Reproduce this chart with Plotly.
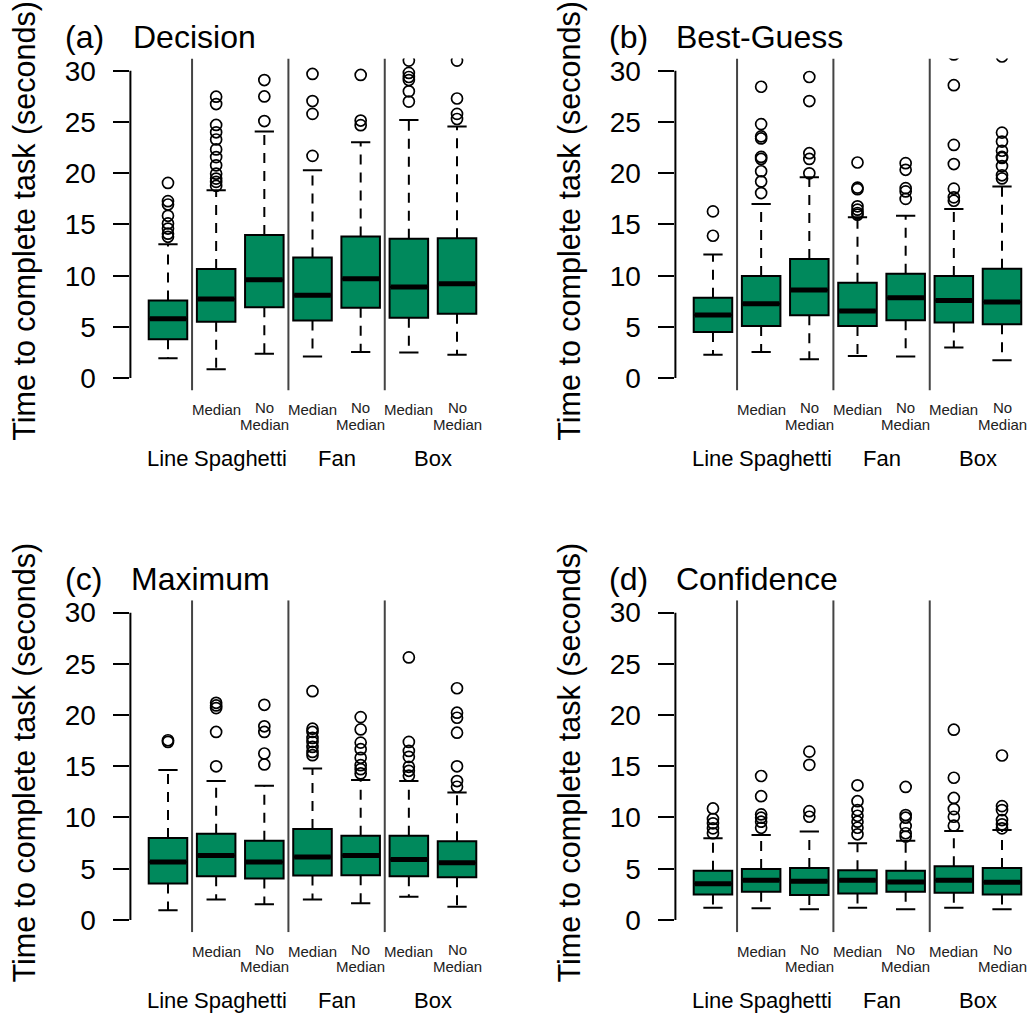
import plotly.graph_objects as go

W, H = 1031, 1019
GREEN = "#00895C"
FONT = "Liberation Sans, Arial, sans-serif"

# ---------------- data ----------------
positions = [1, 2, 3, 4, 5, 6, 7]
group_labels = ["Line", "Spaghetti", "Fan", "Box"]
group_centers = [1, 2.5, 4.5, 6.5]
separators = [1.5, 3.5, 5.5]
median_label_pos = [2, 4, 6]
nomedian_label_pos = [3, 5, 7]
panel_letters = ["(a)", "(b)", "(c)", "(d)"]
panel_titles = ["Decision", "Best-Guess", "Maximum", "Confidence"]
y_ticks = [0, 5, 10, 15, 20, 25, 30]
y_title = "Time to complete task (seconds)"

# (a) Decision
decision_q1 = [3.79, 5.50, 6.93, 5.63, 6.86, 5.89, 6.28]
decision_median = [5.79, 7.73, 9.61, 8.09, 9.71, 8.90, 9.22]
decision_q3 = [7.57, 10.65, 13.98, 11.78, 13.82, 13.60, 13.66]
decision_low = [1.94, 0.87, 2.39, 2.10, 2.56, 2.49, 2.27]
decision_high = [13.07, 18.35, 24.08, 20.30, 23.04, 25.20, 24.56]
decision_outliers = [
    [19.06, 17.28, 16.95, 15.85, 15.10, 14.60, 14.10, 13.80],
    [27.48, 26.76, 24.72, 24.00, 23.30, 22.33, 21.58, 20.78, 19.96, 19.48, 19.16, 18.77],
    [29.10, 27.50, 25.10],
    [29.70, 27.05, 25.80, 21.70],
    [29.60, 25.15, 24.70],
    [31.00, 29.80, 29.40, 29.10, 28.00, 27.00],
    [31.00, 27.30, 25.80, 25.30],
]

# (b) Best-Guess
bestguess_q1 = [4.51, 5.09, 6.13, 5.09, 5.64, 5.42, 5.25]
bestguess_median = [6.16, 7.27, 8.60, 6.55, 7.85, 7.59, 7.43]
bestguess_q3 = [7.85, 9.96, 11.64, 9.31, 10.18, 9.96, 10.67]
bestguess_low = [2.27, 2.56, 1.85, 2.17, 2.10, 2.98, 1.75]
bestguess_high = [12.07, 17.00, 19.60, 15.70, 15.86, 16.50, 18.70]
bestguess_outliers = [
    [16.28, 13.90],
    [28.45, 24.80, 23.60, 23.40, 21.60, 21.40, 20.20, 19.20, 18.07],
    [29.40, 27.05, 21.96, 21.40, 20.00],
    [21.05, 18.60, 18.45, 16.77, 16.45, 16.12, 15.96],
    [20.99, 20.34, 18.55, 18.23, 17.50],
    [31.60, 28.60, 22.77, 20.90, 18.50, 17.65, 17.32],
    [31.40, 23.97, 23.10, 22.20, 21.60, 21.50, 20.70, 19.80, 19.50],
]

# (c) Maximum
maximum_q1 = [3.56, 4.27, 4.05, 4.34, 4.37, 4.27, 4.17]
maximum_median = [5.66, 6.28, 5.66, 6.15, 6.28, 5.89, 5.57]
maximum_q3 = [7.99, 8.41, 7.73, 8.87, 8.22, 8.22, 7.67]
maximum_low = [0.94, 2.00, 1.52, 2.00, 1.62, 2.27, 1.29]
maximum_high = [14.63, 13.56, 13.10, 14.79, 13.66, 13.56, 12.43]
maximum_outliers = [
    [17.54, 17.38],
    [21.20, 20.94, 20.68, 18.35, 15.00],
    [21.00, 18.90, 18.35, 16.25, 15.18],
    [22.33, 18.67, 18.35, 17.77, 17.38, 16.89, 16.40, 16.08],
    [19.80, 18.60, 17.31, 16.67, 15.83, 15.11, 14.72, 14.30],
    [25.63, 17.38, 16.50, 15.92, 14.95, 14.56, 14.08],
    [22.62, 20.23, 19.74, 18.28, 15.00, 13.56, 13.00],
]

# (d) Confidence
confidence_q1 = [2.49, 2.74, 2.42, 2.58, 2.74, 2.65, 2.49]
confidence_median = [3.52, 3.87, 3.78, 3.87, 3.71, 3.87, 3.68]
confidence_q3 = [4.81, 4.97, 5.07, 4.84, 4.81, 5.23, 5.07]
confidence_low = [1.19, 1.13, 1.03, 1.19, 1.03, 1.19, 1.03]
confidence_high = [7.98, 8.30, 8.62, 7.49, 7.72, 8.69, 8.78]
confidence_outliers = [
    [10.88, 9.85, 9.43, 8.94, 8.46],
    [14.05, 12.08, 10.30, 9.98, 9.59, 9.00],
    [16.43, 15.14, 10.62, 10.07],
    [13.14, 11.59, 10.72, 10.17, 9.59, 9.00, 8.36],
    [12.98, 10.24, 9.98, 9.17, 8.46, 8.14],
    [18.57, 13.88, 11.91, 10.82, 10.07, 9.20],
    [16.05, 11.11, 10.72, 9.75, 9.33, 8.94],
]

panels = [
    (decision_q1, decision_median, decision_q3, decision_low, decision_high, decision_outliers),
    (bestguess_q1, bestguess_median, bestguess_q3, bestguess_low, bestguess_high, bestguess_outliers),
    (maximum_q1, maximum_median, maximum_q3, maximum_low, maximum_high, maximum_outliers),
    (confidence_q1, confidence_median, confidence_q3, confidence_low, confidence_high, confidence_outliers),
]

# ---------------- layout geometry (pixels) ----------------
Y_RANGE = [-1.2, 31.2]
BOX_W = 0.8
CAP_W = 0.4


def px_x(p):
    return p / W


def px_y(p):
    return 1 - p / H


# plot-region pixel boxes: (left, right, top, bottom)
regions = [
    (130.4, 494.6, 55.9, 389.7),
    (675.4, 1031.0, 55.9, 389.7),
    (130.4, 494.6, 600.9, 934.7),
    (675.4, 1031.0, 600.9, 934.7),
]
x_ranges = [[0.22, 7.78], [0.22, 7.602], [0.22, 7.78], [0.22, 7.602]]
title_pos = [(63, 131, 34), (607, 674, 34), (63, 129, 579), (607, 674, 579)]
ytitle_pos = [(25, 219), (570, 219), (25, 764), (570, 764)]

fig = go.Figure()
annotations = []
shapes = []
layout_axes = {}

for i, (q1, med, q3, lo, hi, outs) in enumerate(panels):
    sfx = "" if i == 0 else str(i + 1)
    xa, ya = "x" + sfx, "y" + sfx
    L, R, T, B = regions[i]

    # boxes
    fig.add_trace(go.Box(
        x=positions, q1=q1, median=med, q3=q3, lowerfence=q1, upperfence=q3,
        width=BOX_W, fillcolor=GREEN, line=dict(color="black", width=2),
        boxpoints=False, whiskerwidth=0, hoverinfo="skip",
        xaxis=xa, yaxis=ya, showlegend=False,
    ))
    # thick medians
    mx, my = [], []
    for p, m in zip(positions, med):
        mx += [p - BOX_W / 2 + 0.02, p + BOX_W / 2 - 0.02, None]
        my += [m, m, None]
    fig.add_trace(go.Scatter(x=mx, y=my, mode="lines",
                             line=dict(color="black", width=5),
                             xaxis=xa, yaxis=ya, showlegend=False, hoverinfo="skip"))
    # dashed whiskers
    wx, wy = [], []
    for p, a, b, c, d in zip(positions, q1, q3, lo, hi):
        wx += [p, p, None, p, p, None]
        wy += [b, d, None, a, c, None]
    fig.add_trace(go.Scatter(x=wx, y=wy, mode="lines",
                             line=dict(color="black", width=2, dash="10px,8px"),
                             xaxis=xa, yaxis=ya, showlegend=False, hoverinfo="skip"))
    # caps
    cx, cy = [], []
    for p, c, d in zip(positions, lo, hi):
        cx += [p - CAP_W / 2, p + CAP_W / 2, None, p - CAP_W / 2, p + CAP_W / 2, None]
        cy += [c, c, None, d, d, None]
    fig.add_trace(go.Scatter(x=cx, y=cy, mode="lines",
                             line=dict(color="black", width=2),
                             xaxis=xa, yaxis=ya, showlegend=False, hoverinfo="skip"))
    # outliers
    ox, oy = [], []
    for p, o in zip(positions, outs):
        ox += [p] * len(o)
        oy += o
    fig.add_trace(go.Scatter(x=ox, y=oy, mode="markers",
                             marker=dict(symbol="circle-open", size=11, color="black",
                                         line=dict(width=1.7, color="black")),
                             xaxis=xa, yaxis=ya, showlegend=False, hoverinfo="skip"))
    # separators
    sx, sy = [], []
    for s in separators:
        sx += [s, s, None]
        sy += [Y_RANGE[0], Y_RANGE[1], None]
    fig.add_trace(go.Scatter(x=sx, y=sy, mode="lines",
                             line=dict(color="#444444", width=2),
                             xaxis=xa, yaxis=ya, showlegend=False, hoverinfo="skip"))

    # axes
    layout_axes["xaxis" + sfx] = dict(
        domain=[px_x(L), min(1.0, px_x(R))], range=x_ranges[i], anchor=ya,
        showgrid=False, zeroline=False, showline=False, showticklabels=False, ticks="",
    )
    layout_axes["yaxis" + sfx] = dict(
        domain=[px_y(B), px_y(T)], range=Y_RANGE, anchor=xa,
        showgrid=False, zeroline=False, showline=False,
        tickmode="array", tickvals=y_ticks, ticktext=[str(t) for t in y_ticks],
        ticks="outside", ticklen=16, tickwidth=2, tickcolor="black",
        ticklabelstandoff=12,
        tickfont=dict(size=28, color="black", family=FONT),
    )
    # y axis line 0..30
    shapes.append(dict(type="line", xref=xa + " domain", yref=ya,
                       x0=0, x1=0, y0=y_ticks[0], y1=y_ticks[-1],
                       line=dict(color="black", width=2)))

    # titles
    lx, tx, ty = title_pos[i]
    annotations.append(dict(text=panel_letters[i], xref="paper", yref="paper",
                            x=px_x(lx), y=px_y(ty), xanchor="left", yanchor="middle",
                            showarrow=False, font=dict(size=32, color="black", family=FONT)))
    annotations.append(dict(text=panel_titles[i], xref="paper", yref="paper",
                            x=px_x(tx), y=px_y(ty), xanchor="left", yanchor="middle",
                            showarrow=False, font=dict(size=32, color="black", family=FONT)))
    # y title
    yx, yy = ytitle_pos[i]
    annotations.append(dict(text=y_title, xref="paper", yref="paper",
                            x=px_x(yx), y=px_y(yy), xanchor="center", yanchor="middle",
                            textangle=-90, showarrow=False,
                            font=dict(size=30.5, color="black", family=FONT)))
    # sub labels
    for p in median_label_pos:
        annotations.append(dict(text="Median", xref=xa, yref="paper", x=p, y=px_y(B + 19.5),
                                xanchor="center", yanchor="middle", showarrow=False,
                                font=dict(size=15, color="#222222", family=FONT)))
    for p in nomedian_label_pos:
        annotations.append(dict(text="No", xref=xa, yref="paper", x=p, y=px_y(B + 17),
                                xanchor="center", yanchor="middle", showarrow=False,
                                font=dict(size=15, color="#222222", family=FONT)))
        annotations.append(dict(text="Median", xref=xa, yref="paper", x=p, y=px_y(B + 34.5),
                                xanchor="center", yanchor="middle", showarrow=False,
                                font=dict(size=15, color="#222222", family=FONT)))
    for g, c in zip(group_labels, group_centers):
        annotations.append(dict(text=g, xref=xa, yref="paper", x=c, y=px_y(B + 69),
                                xanchor="center", yanchor="middle", showarrow=False,
                                font=dict(size=22, color="black", family=FONT)))

fig.update_layout(
    width=W, height=H, margin=dict(l=0, r=0, t=0, b=0),
    paper_bgcolor="white", plot_bgcolor="white",
    showlegend=False, annotations=annotations, shapes=shapes,
    font=dict(family=FONT, color="black"),
    **layout_axes,
)

fig.write_html("out.html",
               config={"displayModeBar": False, "staticPlot": True},
               post_script="document.body.style.margin='0';document.body.style.overflow='hidden';")
